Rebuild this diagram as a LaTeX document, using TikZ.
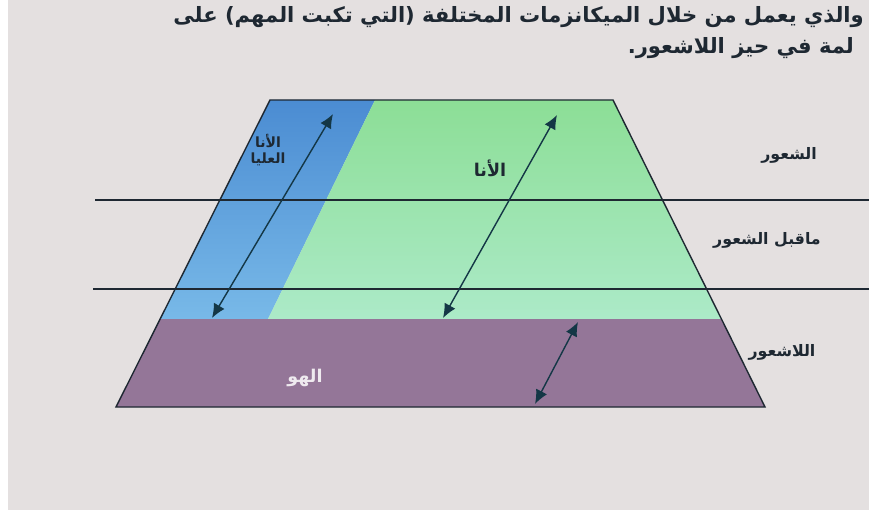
\documentclass[tikz,border=0pt]{standalone}
\usepackage{fontspec}
\setmainfont{DejaVu Sans}
\newfontfamily\arabicfont[Script=Arabic]{DejaVu Sans}
\TeXXeTstate=1
\usetikzlibrary{arrows.meta}
\definecolor{screen}{RGB}{228,224,224}
\definecolor{egogreen}{RGB}{140,222,150}
\definecolor{egomint}{RGB}{172,234,200}
\definecolor{supblue}{RGB}{75,140,210}
\definecolor{supsky}{RGB}{120,185,232}
\definecolor{idpurple}{RGB}{148,118,152}
\definecolor{ink}{RGB}{30,40,50}
\definecolor{arrowink}{RGB}{20,55,70}

\begin{document}
\begin{tikzpicture}[x=0.02cm, y=-0.02cm,
  lbl/.style={font=\arabicfont\bfseries\small, text=ink, inner sep=1pt},
  head/.style={font=\arabicfont\bfseries\large, text=ink, inner sep=1pt},
  level/.style={draw=ink, line width=1pt},
  twoway/.style={{Latex[length=8pt,width=7pt]}-{Latex[length=8pt,width=7pt]}, thick, draw=arrowink}]
  \useasboundingbox (0,0) rectangle (869,510);
  \clip (0,0) rectangle (869,510);
  \fill[screen] (0,0) rectangle (869,510);
  \fill[white] (0,0) rectangle (8,510);

  % text above the picture
  \node[head, anchor=east] (t1) at (866,17) {\beginR والذي يعمل من خلال الميكانزمات المختلفة (التي تكبت المهم) على\endR};
  \node[head, anchor=east] (t2) at (856,48) {\beginR لمة في حيز اللاشعور.\endR};

  % the three regions
  \shade[top color=supblue, bottom color=supsky]
    (270,100) -- (375,100) -- (268,319) -- (160,319) -- cycle;
  \shade[top color=egogreen, bottom color=egomint]
    (375,100) -- (613,100) -- (721,319) -- (268,319) -- cycle;
  \fill[idpurple] (160,319) -- (721,319) -- (765,407) -- (116,407) -- cycle;
  \draw[ink, thick] (270,100) -- (613,100) -- (765,407) -- (116,407) -- cycle;

  % levels
  \draw[level] (95,200) -- (869,200);
  \draw[level] (93,289) -- (869,289);

  \node[lbl] (con) at (789,155) {\beginR الشعور\endR};
  \node[lbl] (pre) at (767,240) {\beginR ماقبل الشعور\endR};
  \node[lbl] (unc) at (782,352) {\beginR اللاشعور\endR};

  \node[lbl, font=\arabicfont\bfseries\normalsize] (ego) at (490,168) {\beginR الأنا\endR};
  \node[lbl, align=center, font=\arabicfont\bfseries\footnotesize] (sup) at (268,150) {\beginR الأنا\endR\\\beginR العليا\endR};
  \node[lbl, font=\arabicfont\bfseries\normalsize, text=white!85!idpurple] (id) at (305,378) {\beginR الهو\endR};

  \coordinate (supA) at (333,114);
  \coordinate (supB) at (212,318);
  \coordinate (egoA) at (557,115);
  \coordinate (egoB) at (443,318);
  \coordinate (idA) at (578,322);
  \coordinate (idB) at (535,404);
  \draw[twoway] (supB) -- (supA);
  \draw[twoway] (egoB) -- (egoA);
  \draw[twoway] (idB) -- (idA);
\end{tikzpicture}
\end{document}
